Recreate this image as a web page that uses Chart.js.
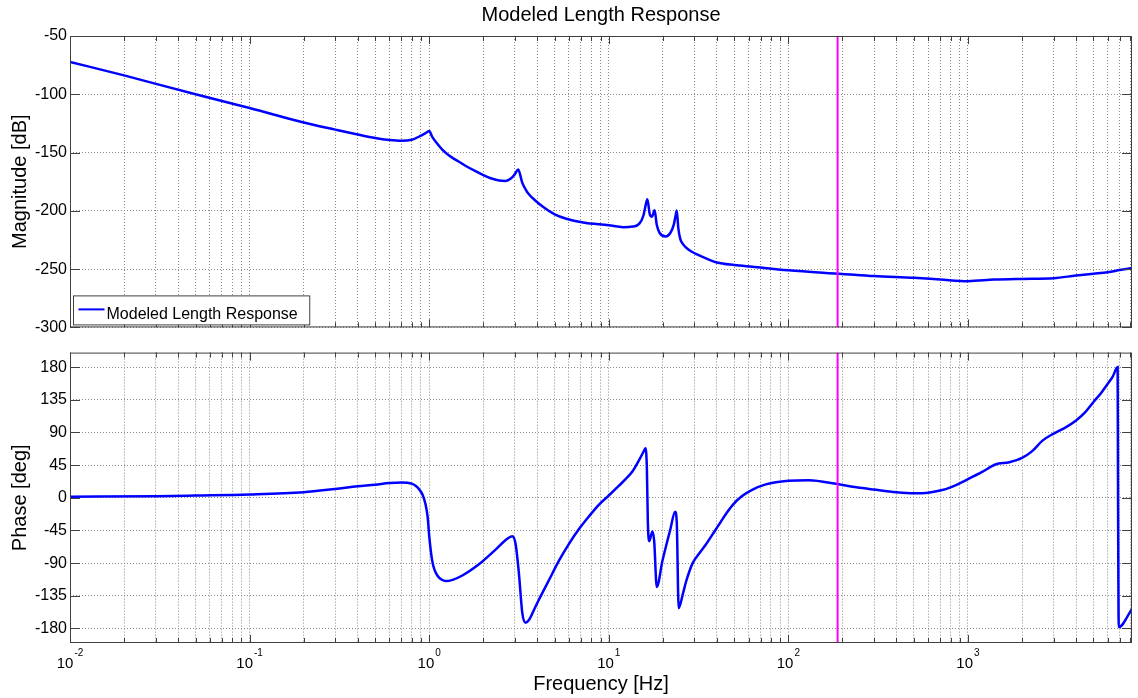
<!DOCTYPE html>
<html>
<head>
<meta charset="utf-8">
<title>Modeled Length Response</title>
<script src="https://cdn.jsdelivr.net/npm/chart.js@4.4.1/dist/chart.umd.min.js"></script>
<style>
  html, body { margin: 0; padding: 0; background: #fff; }
  #wrap { position: relative; width: 1138px; height: 698px; }
  .pane { position: absolute; left: 0; width: 1138px; }
  #magPane { top: 0; height: 340px; }
  #phasePane { top: 340px; height: 358px; }
</style>
</head>
<body>
<div id="wrap">
  <div class="pane" id="magPane"><canvas id="magChart"></canvas></div>
  <div class="pane" id="phasePane"><canvas id="phaseChart"></canvas></div>
</div>
<script>
// ---- data ----
const chartTitle = 'Modeled Length Response';
const seriesLabel = 'Modeled Length Response';

const magFreq = [0.01, 0.02, 0.05, 0.1, 0.2, 0.3, 0.4, 0.5, 0.6, 0.7, 0.8, 0.9, 0.95, 1.0,
  1.04, 1.11, 1.19, 1.29, 1.45, 1.6, 1.8, 1.98, 2.2, 2.45, 2.66, 2.85, 3.0, 3.13, 3.3, 3.44,
  3.6, 3.91, 4.3, 5.0, 5.8, 7.2, 10, 12, 13.6, 14.8, 15.6, 16.0, 16.4, 16.9, 17.4, 18.0, 18.5,
  19.2, 20.8, 22.0, 23.0, 23.5, 23.9, 24.4, 25.0, 26.0, 28.0, 30.6, 35, 40, 50, 63, 100, 200,
  300, 500, 700, 1000, 1400, 2000, 3000, 4000, 5000, 6000, 7000, 8192];
const magDb = [-72.2, -83.8, -100, -111.7, -124.2, -130.3, -134.5, -137.5, -139.2, -139.9, -139.0, -135.5, -133.5, -131.6,
  -136.5, -142.5, -148, -152.5, -157.5, -161.5, -165.8, -169, -172, -173.9, -174.3, -172.3, -168.5, -164.6, -176, -181.5,
  -186, -191.3, -196.5, -203, -206.8, -210, -212.4, -214, -213.5, -211, -204, -196, -190, -202.6, -205, -199.5, -212,
  -219, -222, -219, -212, -205, -199.8, -215, -224, -229, -233.5, -237, -241, -244.3, -246.5, -248, -251, -254.1,
  -256, -257.5, -258.9, -260.3, -259, -258.4, -257.8, -255.5, -254, -252.7, -250.8, -249];

const phaseFreq = [0.01, 0.03, 0.05, 0.1, 0.2, 0.3, 0.4, 0.5, 0.6, 0.7, 0.8, 0.84, 0.88, 0.92, 0.95, 0.98, 1.0,
  1.02, 1.04, 1.07, 1.11, 1.17, 1.24, 1.35, 1.53, 1.9, 2.1, 2.35, 2.7, 2.9, 3.03, 3.16, 3.3, 3.44, 3.6, 3.91,
  4.08, 4.64, 5.28, 5.99, 6.81, 7.74, 8.8, 10, 11.4, 12.4, 13.6, 14.8, 15.8, 16.0, 16.3, 16.5, 16.8, 17.5, 17.9, 18.5,
  19.9, 22, 23.4, 23.9, 24.5, 25.9, 26.9, 29.3, 31.8, 34.8, 39.1, 41.8, 45, 48.9, 55, 62.8, 74.9, 100, 130,
  188, 240, 300, 400, 500, 600, 700, 800, 1000, 1200, 1420, 1700, 2000, 2270, 2600, 3000, 3500, 4000, 4500,
  5000, 5500, 6000, 6400, 6813, 6850, 6910, 8192];
const phaseDeg = [1.4, 2.3, 3.2, 4.6, 7.7, 12.2, 15.8, 18, 20.3, 21.2, 19.5, 16.5, 11.5, 4, -7, -26, -52,
  -72, -87, -99, -107, -112.5, -114.7, -113, -107, -91.2, -82, -71, -57, -53, -64, -104.5, -158.7, -172, -168, -149.8,
  -140.5, -113.6, -86.6, -63.7, -43.4, -25.9, -9.7, 3.2, 16.7, 25.6, 37, 52.6, 66, 68.4, 40, -32.8, -59.8, -46.3, -59.8, -122.8,
  -86.8, -44, -19.3, -32.8, -152, -131.7, -116, -90, -77, -64, -45, -34, -22, -10, 2, 11, 18.5, 23.5, 24.3,
  18.9, 14.4, 11.3, 7.7, 6.3, 7, 10, 14.4, 25.7, 35.6, 45.9, 49, 54.9, 63.9, 78.8, 88.5, 97, 106.5, 118,
  132, 144, 157, 167, 180, 0, -178, -153];

const markerFreq = 188;
const freqRange = [0.01, 8192];
const magRange = [-300, -50];
const phaseRange = [-200, 200];
const magTicks = [-300, -250, -200, -150, -100, -50];
const phaseTicks = [-180, -135, -90, -45, 0, 45, 90, 135, 180];
const decadeExponents = [-2, -1, 0, 1, 2, 3];

// ---- shared look ----
const FONT = '"Liberation Sans", Arial, Helvetica, sans-serif';
Chart.defaults.font.family = FONT;
Chart.defaults.color = '#000';

const xTickValues = [];
decadeExponents.forEach((e) => {
  for (let m = 1; m <= 9; m++) {
    const v = +(m * Math.pow(10, e)).toPrecision(3);
    if (v <= freqRange[1]) xTickValues.push(v);
  }
});
const isDecade = (v) => Math.abs(Math.log10(v) - Math.round(Math.log10(v))) < 1e-9;

const toPoints = (xs, ys) => xs.map((x, i) => ({x: x, y: ys[i]}));

// box with inward ticks, MATLAB style
const framePlugin = {
  id: 'frame',
  afterDatasetsDraw(chart) {
    const {ctx, chartArea: a, scales} = chart;
    ctx.save();
    ctx.strokeStyle = '#404040';
    ctx.lineWidth = 1;
    ctx.strokeRect(a.left + 0.5, a.top + 0.5, a.right - a.left - 1, a.bottom - a.top - 1);
    ctx.beginPath();
    scales.y.ticks.forEach((t) => {
      const y = Math.round(scales.y.getPixelForValue(t.value)) + 0.5;
      ctx.moveTo(a.left, y); ctx.lineTo(a.left + 10, y);
      ctx.moveTo(a.right, y); ctx.lineTo(a.right - 10, y);
    });
    scales.x.ticks.forEach((t) => {
      const x = Math.round(scales.x.getPixelForValue(t.value)) + 0.5;
      const len = isDecade(t.value) ? 8 : 5;
      ctx.moveTo(x, a.top); ctx.lineTo(x, a.top + len);
      ctx.moveTo(x, a.bottom); ctx.lineTo(x, a.bottom - len);
    });
    ctx.stroke();
    ctx.restore();
  }
};

// legend box in lower left corner of the magnitude plot
const cornerLegend = {
  id: 'cornerLegend',
  afterDraw(chart) {
    if (chart.canvas.id !== 'magChart') return;
    const {ctx, chartArea: a} = chart;
    const ds = chart.data.datasets.find((d) => d.label === seriesLabel);
    ctx.save();
    ctx.font = '16px ' + FONT;
    const tw = ctx.measureText(ds.label).width;
    const bx = a.left + 3.5, by = a.bottom - 31.5, bw = 37 + tw + 8, bh = 29;
    ctx.fillStyle = '#fff';
    ctx.fillRect(bx, by, bw, bh);
    ctx.strokeStyle = '#404040';
    ctx.lineWidth = 1;
    ctx.strokeRect(bx, by, bw, bh);
    ctx.strokeStyle = ds.borderColor;
    ctx.lineWidth = 2;
    ctx.beginPath();
    ctx.moveTo(bx + 5, by + 13.5);
    ctx.lineTo(bx + 31, by + 13.5);
    ctx.stroke();
    ctx.fillStyle = '#000';
    ctx.textBaseline = 'alphabetic';
    ctx.fillText(ds.label, bx + 33, by + 23);
    ctx.restore();
  }
};

// 10^n labels under the phase plot
const decadeLabels = {
  id: 'decadeLabels',
  afterDraw(chart) {
    if (chart.canvas.id !== 'phaseChart') return;
    const {ctx, chartArea: a, scales} = chart;
    ctx.save();
    ctx.fillStyle = '#000';
    ctx.textBaseline = 'alphabetic';
    ctx.textAlign = 'left';
    decadeExponents.forEach((e) => {
      const px = scales.x.getPixelForValue(Math.pow(10, e));
      const exp = String(e);
      ctx.font = '15px ' + FONT;
      const wBase = ctx.measureText('10').width;
      ctx.font = '10px ' + FONT;
      const wExp = ctx.measureText(exp).width;
      const left = px - (wBase + 1 + wExp) / 2;
      ctx.font = '15px ' + FONT;
      ctx.fillText('10', left, a.bottom + 25);
      ctx.font = '10px ' + FONT;
      ctx.fillText(exp, left + wBase + 1, a.bottom + 13);
    });
    ctx.restore();
  }
};

function freqAxis(showTitle) {
  return {
    type: 'logarithmic',
    min: freqRange[0],
    max: freqRange[1],
    afterBuildTicks: (s) => { s.ticks = xTickValues.map((v) => ({value: v, major: isDecade(v)})); },
    afterFit: (s) => { s.height = showTitle ? 55 : 0; },
    ticks: {display: false},
    grid: {color: '#8a8a8a', lineWidth: 1, drawTicks: false},
    border: {display: false, dash: [1, 2]},
    title: {
      display: showTitle,
      text: 'Frequency [Hz]',
      font: {size: 20},
      color: '#000',
      padding: {top: 0, bottom: 2}
    }
  };
}

function valueAxis(range, tickList, label) {
  return {
    min: range[0],
    max: range[1],
    afterBuildTicks: (s) => { s.ticks = tickList.map((v) => ({value: v})); },
    afterFit: (s) => { s.width = 70; },
    ticks: {font: {size: 16}, color: '#000', padding: 3, callback: (v) => String(v)},
    grid: {color: '#8a8a8a', lineWidth: 1, drawTicks: false},
    border: {display: false, dash: [1, 2]},
    title: {display: true, text: label, font: {size: 20}, color: '#000', padding: {top: 8, bottom: 0}}
  };
}

function makeChart(id, xs, ys, yRange, yTicks, yLabel, isTop) {
  return new Chart(document.getElementById(id), {
    type: 'line',
    data: {
      datasets: [
        {
          label: 'marker',
          data: toPoints([markerFreq, markerFreq], yRange),
          borderColor: '#ff00ff',
          borderWidth: 2,
          pointRadius: 0,
          order: 0
        },
        {
          label: seriesLabel,
          data: toPoints(xs, ys),
          borderColor: '#0000ff',
          borderWidth: 2.5,
          pointRadius: 0,
          cubicInterpolationMode: 'monotone',
          order: 1
        }
      ]
    },
    options: {
      responsive: true,
      maintainAspectRatio: false,
      devicePixelRatio: 1,
      animation: false,
      layout: {padding: isTop ? {left: 0, right: 6, top: 0, bottom: 8} : {left: 0, right: 6, top: 8, bottom: 0}},
      plugins: {
        legend: {display: false},
        tooltip: {enabled: false},
        title: {
          display: isTop,
          text: chartTitle,
          fullSize: false,
          font: {size: 20, weight: 'normal'},
          color: '#000',
          padding: {top: 3, bottom: 9}
        }
      },
      scales: {
        x: freqAxis(!isTop),
        y: valueAxis(yRange, yTicks, yLabel)
      }
    },
    plugins: [framePlugin, cornerLegend, decadeLabels]
  });
}

makeChart('magChart', magFreq, magDb, magRange, magTicks, 'Magnitude [dB]', true);
makeChart('phaseChart', phaseFreq, phaseDeg, phaseRange, phaseTicks, 'Phase [deg]', false);
</script>
</body>
</html>
